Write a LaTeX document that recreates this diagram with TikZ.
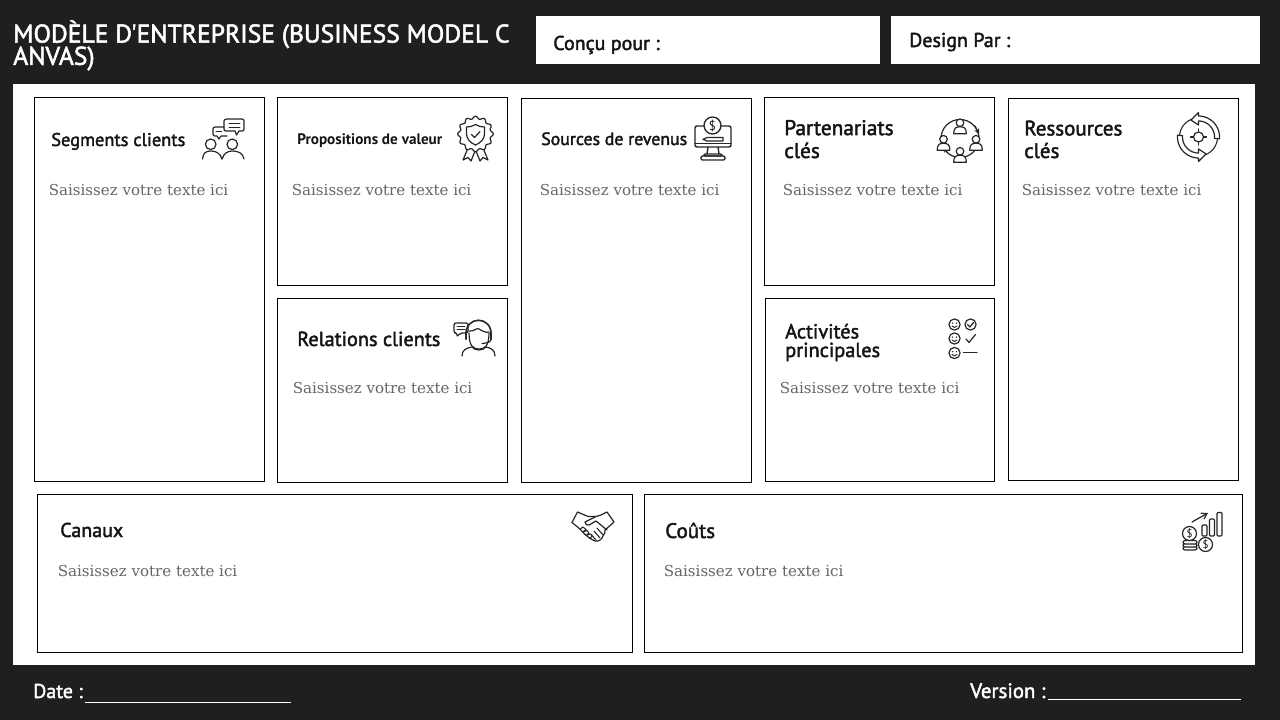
\documentclass[tikz,border=0pt]{standalone}
\usepackage{fontspec}
\setmainfont{PT Sans}
\newfontfamily\bodyfont{DejaVu Serif}
\newfontfamily\med[FakeBold=2]{PT Sans}
\usetikzlibrary{arrows.meta}
\definecolor{bgdark}{HTML}{1F1F1F}
\definecolor{bodygray}{HTML}{666666}
\newcommand{\px}[1]{\fontsize{\dimexpr#1pt*3/4\relax}{\dimexpr#1pt*9/10\relax}\selectfont}
\tikzset{
  x=0.75pt,y=-0.75pt,
  card/.style={draw=black,line width=0.75pt,fill=white},
  field/.style={fill=white,draw=none},
  head/.style={anchor=base west,inner sep=0pt,font=\med\px{18.4},text=black!92},
  hint/.style={anchor=base west,inner sep=0pt,font=\bodyfont\px{15.05},text=bodygray},
  foot/.style={anchor=base west,inner sep=0pt,font=\med\px{20},text=white},
  fieldlabel/.style={anchor=base west,inner sep=0pt,font=\med\px{20},text=black!92},
  ic/.style={draw=black!85,line width=0.9pt,line join=round,line cap=round},
  icf/.style={ic,fill=white},
}
% person: head + shoulders at (#1,#2), scale #3
\newcommand{\person}[3]{%
  \begin{scope}[shift={(#1,#2)},scale=#3]
    \draw[icf] (-5.5,8) .. controls (-5.5,2.5) and (-3,2) .. (0,2) .. controls (3,2) and (5.5,2.5) .. (5.5,8) -- cycle;
    \draw[icf] (0,-1.5) circle[radius=3.3];
  \end{scope}}
\newcommand{\smiley}[2]{%
  \draw[ic] (#1,#2) circle[radius=5.6];
  \fill[black!85] (#1-2,#2-1.4) circle[radius=.75] (#1+2,#2-1.4) circle[radius=.75];
  \draw[ic,line width=.7pt] (#1-2.5,#2+1.5) .. controls (#1-1,#2+3.4) and (#1+1,#2+3.4) .. (#1+2.5,#2+1.5);}
\newcommand{\bandarrow}[2]{%
  \draw[icf] plot[samples=24,domain=#1:#2] ({21*cos(\x)},{21*sin(\x)})
    -- ({24.5*cos(#2)},{24.5*sin(#2)}) -- ({18.5*cos(#2-24)},{18.5*sin(#2-24)})
    -- ({12*cos(#2)},{12*sin(#2)}) -- ({16*cos(#2)},{16*sin(#2)})
    -- plot[samples=24,domain=#2:#1] ({16*cos(\x)},{16*sin(\x)}) -- cycle;}
\newcommand{\ringarc}[2]{%
  \draw[ic,line width=.8pt] plot[samples=16,domain=#1:#2] ({19*cos(\x)},{19*sin(\x)});}
\begin{document}
\begin{tikzpicture}
\useasboundingbox (0,0) rectangle (1280,720);
\fill[bgdark] (0,0) rectangle (1280,720);
\node[field,anchor=north west,inner sep=0pt] (panel) at (13,84) {\tikz\path (0,0) rectangle (1242,581);};

% title and header
\node[anchor=north west,inner sep=0pt,align=left,text=white,font=\med\fontsize{19.2pt}{23pt}\selectfont] (title) at (13,20) {MODÈLE D'ENTREPRISE (BUSINESS MODEL C\\[-6.3pt]ANVAS)};
\node[field,anchor=north west,inner sep=0pt] (concu) at (536,16) {\tikz\path (0,0) rectangle (344,48);};
\node[field,anchor=north west,inner sep=0pt] (design) at (891,16) {\tikz\path (0,0) rectangle (369,48);};
\node[fieldlabel] (concut) at (553,50) {Conçu pour :};
\node[fieldlabel] (designt) at (909,47) {Design Par :};

% cards
\begin{scope}[shift={(-0.5,-0.5)}]
\draw[card] (35,98) rectangle (265,482);
\draw[card] (278,98) rectangle (508,286);
\draw[card] (278,299) rectangle (508,483);
\draw[card] (522,99) rectangle (752,483);
\draw[card] (765,98) rectangle (995,286);
\draw[card] (766,299) rectangle (995,482);
\draw[card] (1009,99) rectangle (1239,481);
\draw[card] (38,495) rectangle (633,653);
\draw[card] (645,495) rectangle (1243,653);
\end{scope}

% headings
\node[head] (h1) at (51,146) {Segments clients};
\node[head,font=\fontsize{11.4pt}{13pt}\bfseries\selectfont] (h2) at (297,145) {Propositions de valeur};
\node[head,font=\med\px{20.3}] (h3) at (297,346) {Relations clients};
\node[head,font=\med\px{17.8}] (h4) at (541,145) {Sources de revenus};
\node[head,font=\med\px{21.3},align=left] (h5) at (784,158) {Partenariats\\[-2pt]clés};
\node[head,font=\med\px{20.3},align=left] (h6) at (785,357) {Activités\\[-4.3pt]principales};
\node[head,font=\med\px{21},align=left] (h7) at (1024,158) {Ressources\\[-2pt]clés};
\node[head,font=\med\px{20}] (h8) at (60,537) {Canaux};
\node[head,font=\med\px{21}] (h9) at (665,538) {Coûts};

% hints
\node[hint] (t1) at (48.6,196) {Saisissez votre texte ici};
\node[hint] (t2) at (291.6,196) {Saisissez votre texte ici};
\node[hint] (t3) at (292.6,393) {Saisissez votre texte ici};
\node[hint] (t4) at (539.6,196) {Saisissez votre texte ici};
\node[hint] (t5) at (782.6,196) {Saisissez votre texte ici};
\node[hint] (t6) at (779.6,393) {Saisissez votre texte ici};
\node[hint] (t7) at (1021.6,196) {Saisissez votre texte ici};
\node[hint] (t8) at (57.6,576) {Saisissez votre texte ici};
\node[hint] (t9) at (663.6,576) {Saisissez votre texte ici};

% footer
\node[foot] (date) at (33,698) {Date :};
\node[foot,font=\med\px{20.8}] (version) at (970,698) {Version :};
\coordinate (d1) at (85,702.5); \coordinate (d2) at (291,702.5);
\coordinate (v1) at (1048,699.5); \coordinate (v2) at (1241,699.5);
\draw[white,line width=.8pt] (d1) -- (d2);
\draw[white,line width=.8pt] (v1) -- (v2);

% icon: people talking
\draw[ic] (225,119) ++(2,0) -- (242,119) .. controls (243.5,119) and (244,120) .. (244,121) -- (244,129) .. controls (244,130.5) and (243.5,131) .. (242,131) -- (239,131) -- (236.5,135) -- (235,131) -- (226,131) .. controls (224.8,131) and (224,130.5) .. (224,129) -- (224,121) .. controls (224,120) and (225,119) .. (227,119);
\draw[ic,line width=.7pt] (229,123) -- (240,123) (229,127) -- (240,127);
\draw[ic] (224,127) -- (215,127) .. controls (214,127) and (213,128) .. (213,129) -- (213,134) .. controls (213,135.5) and (214,136) .. (215,136) -- (217,136) -- (219,139) -- (221,136) -- (227,136);
\draw[ic,line width=.7pt] (216,131.5) -- (222,131.5);
\draw[ic] (210.7,144.3) circle[radius=5.3];
\draw[ic] (232.3,144.3) circle[radius=5.3];
\draw[ic] (202.5,159) .. controls (203,153) and (206,151) .. (210.7,151) .. controls (216,151) and (220,153) .. (222,159);
\draw[ic] (222,159) .. controls (224,153) and (228,151) .. (232.3,151) .. controls (238,151) and (243,153) .. (244,159);

% icon: rosette
\draw[ic] (468,148) -- (463,160) -- (468,157.5) -- (471,161) -- (475,151);
\draw[ic] (483,148) -- (488,160) -- (483,157.5) -- (480,161) -- (476,151);
\draw[icf] plot[samples=121,domain=0:360] ({475.5+(16.5+1.3*cos(12*\x))*cos(\x)},{134+(16.5+1.3*cos(12*\x))*sin(\x)}) -- cycle;
\draw[ic] (475.5,124.5) .. controls (478.5,126.5) and (481.5,127) .. (484.5,127) -- (484.5,134) .. controls (484.5,139) and (480.5,143) .. (475.5,145) .. controls (470.5,143) and (466.5,139) .. (466.5,134) -- (466.5,127) .. controls (469.5,127) and (472.5,126.5) .. (475.5,124.5) -- cycle;
\draw[ic] (471.5,134.5) -- (474.5,137.5) -- (480,131.5);

% icon: monitor
\draw[ic,line width=1.1pt,rounded corners=1.5pt] (695,126) rectangle (731,147);
\draw[ic,line width=1pt] (695,143.5) -- (731,143.5);
\draw[ic,line width=1pt] (708,147) -- (707,154) (718,147) -- (719,154);
\draw[ic,line width=1pt,rounded corners=1pt] (704,154) rectangle (722,156);
\draw[ic,line width=1pt,rounded corners=1pt] (701,156) rectangle (725,160);
\draw[ic,line width=1pt,fill=white] (712.5,125.5) circle[radius=8.5];
\node[inner sep=0pt,font=\px{13},text=black!90] (dollar1) at (712.5,125.5) {\$};
\draw[ic] (707,137.5) -- (723,137.5) -- (723,141) -- (707,141) -- (703,139.3) -- cycle;

% icon: network
\draw[ic] (960,138.5) circle[radius=19];
\draw[ic,-{Stealth[length=4pt,width=4pt]}] (975,126) -- (979,134);
\draw[ic,-{Stealth[length=4pt,width=4pt]}] (947,152) -- (943,147);
\person{960}{124.5}{1.15}
\person{943.5}{141}{1.15}
\person{976}{141}{1.15}
\person{960}{153}{1.15}

% icon: target arrows
\begin{scope}[shift={(1198.5,137)}]
  \ringarc{-112}{-175}
  \ringarc{68}{5}
  \bandarrow{5}{-90}
  \bandarrow{185}{90}
  \draw[ic] (0,0) circle[radius=5];
  \draw[ic] (0,-8) -- (0,-5) (0,5) -- (0,8) (-8,0) -- (-5,0) (5,0) -- (8,0);
\end{scope}

% icon: headset
\draw[ic,rounded corners=1.5pt] (454,323) -- (468,323) -- (468,333) -- (460,333) -- (457,337) -- (457,333) -- (454,333) -- cycle;
\draw[ic,line width=.7pt] (457,326) -- (465,326) (457,329.5) -- (465,329.5);
\draw[ic] (469,333) .. controls (469,347) and (474,349) .. (479,349) .. controls (484,349) and (489,347) .. (489,333);
\draw[ic] (469,331) .. controls (474,332) and (477,327) .. (479,329) .. controls (482,331) and (486,333) .. (489,332);
\draw[ic,line width=1.2pt] (466,336) .. controls (464,315) and (493,315) .. (491,336);
\draw[ic,line width=1.6pt] (466,333) -- (466,339) (491,333) -- (491,339);
\draw[ic] (491,339) .. controls (491,342) and (488,343) .. (482,343.5);
\draw[ic] (462,356) .. controls (462,350) and (466,348) .. (472,347) .. controls (475,351) and (483,351) .. (486,347) .. controls (491,348) and (495,350) .. (495,356);

% icon: checklist
\smiley{954.5}{324.5}
\smiley{954.5}{338.5}
\smiley{954.5}{353}
\draw[ic] (970.5,324.5) circle[radius=5.6];
\draw[ic] (967.5,324.5) -- (969.8,327) -- (973.5,322.5);
\draw[ic] (966,339) -- (969,342.5) -- (975.5,334.5);
\draw[ic] (963.5,352.7) -- (977,352.7);

% icon: handshake
\draw[ic] (572,522.5) -- (577.5,512) -- (588,516.5) -- (596,516.5) -- (601,515) -- (607,512) -- (614,522) -- (605,530);
\draw[ic] (572,522.5) -- (580,529) .. controls (585,535) and (590,539) .. (595,541) .. controls (599,542) and (602,539) .. (603,536) .. controls (605,534) and (605,532) .. (605,530);
\draw[ic] (596,516.5) -- (585,522) .. controls (585,524) and (587,526) .. (589,525) -- (596,521) -- (607,530);
\draw[ic,line width=.8pt] (580,529) -- (583,527) -- (586,529.5) -- (583,532) (583,532) -- (587,530.5) -- (589,533) -- (586,535.5) (586,535.5) -- (590.5,534) -- (592.5,536) -- (589.5,538.5);
\draw[ic,line width=.8pt] (597,528) -- (603,535) (594,531) -- (600,538) (591,534.5) -- (596,540);

% icon: coins and bars
\draw[ic,rounded corners=.8pt] (1202,525) rectangle (1207,536);
\draw[ic,rounded corners=.8pt] (1209.5,519) rectangle (1214.5,536);
\draw[ic,rounded corners=.8pt] (1217,512.5) rectangle (1222,536);
\draw[ic,-{Straight Barb[length=4pt,width=5pt]}] (1192,522) -- (1208,513);
\foreach \yy in {546.5,543.5,540.5}
  \draw[icf,rounded corners=1.5pt] (1183,\yy) rectangle (1197,\yy+3.5);
\draw[ic,fill=white] (1189.5,533.5) circle[radius=7];
\node[inner sep=0pt,font=\px{11},text=black!90] (dollar2) at (1189.5,533.5) {\$};
\draw[ic,fill=white] (1205.5,544.5) circle[radius=7];
\node[inner sep=0pt,font=\px{11},text=black!90] (dollar3) at (1205.5,544.5) {\$};
\end{tikzpicture}
\end{document}
